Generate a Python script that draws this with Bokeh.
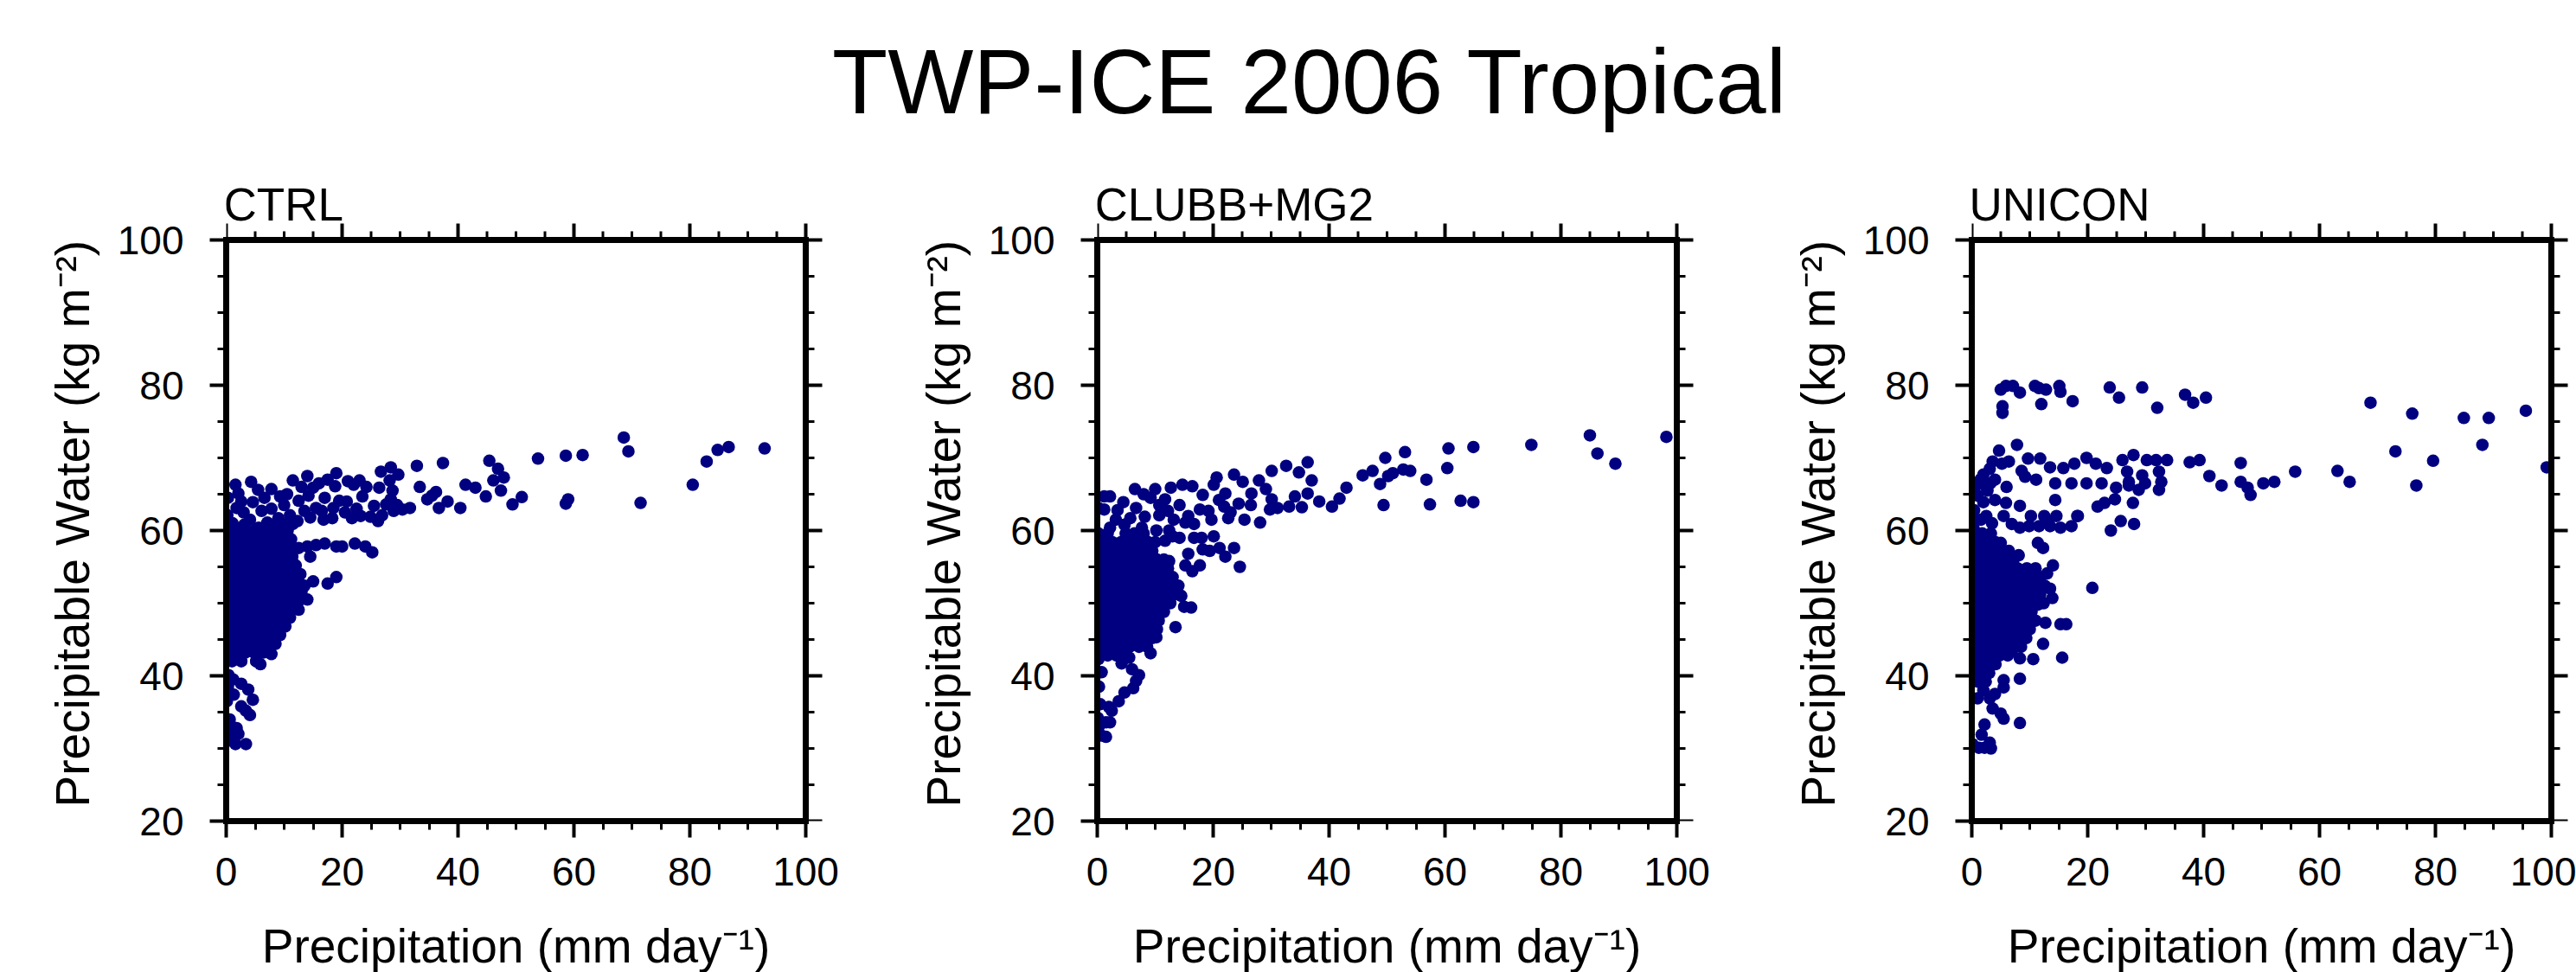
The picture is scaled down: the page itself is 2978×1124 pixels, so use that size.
import math
from bokeh.plotting import figure
from bokeh.layouts import column, row
from bokeh.models import Range1d, LinearAxis, FixedTicker
from bokeh.embed import file_html
from bokeh.resources import INLINE
from bokeh.core.properties import value

FONT = "Liberation Sans"
NAVY = "#000080"

title_text = "TWP-ICE 2006 Tropical"
panel_names = ["CTRL", "CLUBB+MG2", "UNICON"]
x_label = "Precipitation (mm day\u207b\u00b9)"
y_label = "Precipitable Water (kg m\u207b\u00b2)"
x_major = [0, 20, 40, 60, 80, 100]
x_minor = [5, 10, 15, 25, 30, 35, 45, 50, 55, 65, 70, 75, 85, 90, 95]
y_major = [20, 40, 60, 80, 100]
y_minor = [25, 30, 35, 45, 50, 55, 65, 70, 75, 85, 90, 95]

# ---------------- CTRL ----------------
ctrl_precip = [
    68.6, 69.4, 71.5, 80.5, 82.9, 84.8, 86.7, 92.9, 53.8, 58.6, 61.5, 58.6, 59.0, 51.0, 49.4,
    45.4, 46.9, 47.9, 46.1, 47.4, 44.8, 43.0, 41.3, 40.4,
    37.4, 32.9, 33.4, 36.2, 34.7, 38.2, 36.7, 31.7, 30.4, 35.5,
    26.7, 28.4, 29.7, 28.2, 26.4, 28.7, 28.4, 28.9, 26.9, 24.9, 26.2, 27.6, 25.5, 29.5,
    22.0, 23.0, 24.2, 23.5, 21.7, 19.0, 18.8, 19.5, 18.5, 18.3, 16.0, 14.0, 11.5, 15.0, 12.5,
    15.5, 16.5, 13.5, 12.3, 20.5, 22.5, 17.0, 14.2, 13.0, 17.5, 20.8, 21.0, 16.8, 14.5, 23.2,
    9.3, 9.0, 11.0, 6.6, 4.6, 6.1, 7.1, 4.1, 4.3, 1.6, 2.1, 1.8, 0.2, 1.1, 3.1,
    5.6, 8.1, 10.0, 7.8, 3.0, 2.6, 5.5, 7.8, 9.8, 11.5, 0.5, 0.3, 10.5,
    12.5, 14.0, 15.5, 17.0, 19.0, 20.0, 22.2, 24.0, 25.2, 14.5, 15.0, 17.5, 19.0, 13.5, 14.0, 12.5,
    2.6, 3.8, 4.6, 1.3, 2.6, 4.1, 3.4, 0.6, 1.8, 0.6, 1.6, 3.4, 0.1, 0.1, 0.4,
    0.1, 2.1, 1.0, 0.3, 1.2, 5.9, 7.8, 5.2,
]
ctrl_pw = [
    72.8, 70.9, 63.8, 66.3, 69.5, 71.1, 71.5, 71.3, 69.9, 70.3, 70.4, 63.7, 64.3, 64.6, 63.6,
    69.6, 68.5, 67.3, 66.9, 65.5, 64.7, 65.9, 66.3, 63.1,
    69.3, 68.9, 66.0, 65.3, 64.3, 64.0, 63.1, 63.1, 62.9, 64.8,
    68.1, 68.7, 67.7, 66.9, 65.9, 65.5, 64.3, 62.7, 62.1, 61.9, 61.3, 63.6, 63.4, 63.5,
    66.3, 66.9, 66.0, 64.7, 61.7, 67.9, 66.1, 64.1, 63.1, 61.7, 66.5, 67.5, 66.9, 65.9, 64.1,
    63.1, 62.7, 62.7, 61.3, 62.5, 63.0, 64.5, 64.8, 66.0, 67.0, 64.0, 66.8, 61.5, 61.8, 62.0,
    64.7, 61.7, 62.1, 64.5, 63.9, 62.7, 61.1, 61.5, 66.7, 66.3, 65.1, 63.1, 62.1, 61.0, 60.8,
    60.4, 60.4, 63.5, 63.0, 62.5, 64.0, 65.6, 65.7, 60.8, 60.9, 60.5, 64.5, 65.0,
    57.6, 57.8, 58.0, 58.2, 57.8, 57.8, 58.2, 57.8, 57.0, 56.4, 53.0, 52.7, 53.6, 52.4, 50.5, 49.1,
    38.9, 38.1, 36.7, 37.4, 35.8, 34.6, 35.2, 34.0, 32.8, 31.4, 30.6, 30.6, 31.0, 36.5, 40.1,
    42.5, 32.0, 33.0, 38.5, 39.5, 41.6, 43.0, 42.0,
]
# dense core of CTRL, row by row
ctrl_core_pw = [60.0, 58.8, 57.6, 56.4, 55.2, 54.0, 52.8, 51.6, 50.4, 49.2, 48.0, 46.8, 45.6, 44.4, 43.2, 42.0]
ctrl_core_precip = [
    [0.2, 1.8, 3.3, 4.9, 6.4, 7.9, 9.5, 10.6],
    [1.0, 2.5, 4.1, 5.7, 7.2, 8.8, 10.3, 11.2],
    [0.2, 1.7, 3.3, 4.8, 6.4, 8.0, 9.5, 11.0],
    [1.0, 2.6, 4.1, 5.6, 7.2, 8.7, 10.3, 11.4],
    [0.3, 1.8, 3.3, 4.9, 6.4, 7.9, 9.5, 11.0, 12.0],
    [1.0, 2.5, 4.1, 5.7, 7.2, 8.8, 10.3, 11.8, 12.8],
    [0.2, 1.7, 3.3, 4.8, 6.4, 8.0, 9.5, 11.0, 12.6],
    [1.1, 2.6, 4.1, 5.6, 7.2, 8.7, 10.3, 11.8, 13.0],
    [0.2, 1.8, 3.3, 4.9, 6.4, 7.9, 9.5, 11.0, 12.6],
    [1.0, 2.5, 4.1, 5.7, 7.2, 8.8, 10.3, 11.7],
    [0.3, 1.8, 3.3, 4.8, 6.4, 8.0, 9.5, 11.0],
    [1.0, 2.6, 4.1, 5.6, 7.2, 8.7, 10.2],
    [0.2, 1.7, 3.3, 4.9, 6.4, 7.9, 9.3],
    [1.0, 2.5, 4.1, 5.7, 7.2, 8.5],
    [0.2, 1.8, 3.3, 4.8, 6.4, 7.5],
    [1.0, 2.6, 5.2],
]

# ---------------- CLUBB+MG2 ----------------
clubb_precip = [
    74.9, 85.0, 86.3, 89.4, 98.2, 64.9, 64.9, 62.7, 60.6, 60.4, 57.4, 56.8, 54.0, 52.8, 53.1,
    49.7, 51.0, 50.2, 47.5, 45.8, 48.8, 49.4, 43.0, 41.8, 40.5,
    36.3, 32.6, 30.1, 34.8, 37.0, 36.3, 34.1, 38.3, 35.3, 33.1, 31.1, 29.8, 30.1,
    27.9, 29.1, 26.6, 25.1, 23.6, 20.6, 20.1, 22.1, 21.9, 24.4, 22.6, 25.4, 28.1, 21.0, 26.5, 23.0,
    23.6, 22.1, 24.6, 20.1, 21.1, 19.4, 18.2, 17.7, 16.4, 15.2, 15.7, 16.7, 14.2, 11.7, 10.0, 12.4, 13.0, 18.0,
    14.7, 16.4, 18.2, 12.7, 10.0, 6.5, 4.5, 2.2, 1.2, 9.2, 11.7, 14.2, 17.7, 19.2, 19.7,
    13.2, 15.2, 16.7, 10.7, 8.2, 5.7, 3.2, 2.2, 10.7, 1.2, 0.2, 6.7, 12.2, 15.7, 4.7,
    7.7, 10.2, 12.4, 8.0, 3.5,
    16.2, 15.0, 13.5, 10.2, 9.2, 2.2, 12.4, 14.5,
    4.2, 5.5, 6.0, 7.2, 6.7, 6.2, 4.7, 3.7, 2.0, 2.5, 1.5, 2.2, 1.5, 0.25, 0.5, 0.3, 0.75, 0.2, 0.7, 0.1,
]
clubb_pw = [
    71.8, 73.1, 70.6, 69.2, 72.9, 71.5, 63.9, 64.1, 71.3, 68.6, 63.6, 67.0, 68.2, 68.4, 70.8,
    70.0, 67.9, 67.5, 68.2, 67.6, 66.4, 63.5, 65.9, 64.4, 63.3,
    69.4, 68.9, 68.2, 68.0, 66.9, 65.1, 64.7, 64.0, 63.2, 63.3, 63.1, 62.9, 64.3,
    66.9, 65.7, 65.1, 66.7, 67.7, 67.3, 66.3, 65.1, 63.3, 63.7, 61.7, 61.5, 61.1, 64.2, 63.5, 62.5,
    57.6, 56.4, 55.0, 59.2, 57.6, 57.2, 57.4, 55.2, 54.4, 55.2, 56.8, 59.0, 59.0, 58.6, 58.4, 55.8, 59.2, 59.0,
    66.3, 66.1, 64.9, 65.9, 65.7, 65.7, 63.9, 64.7, 62.9, 64.5, 64.3, 63.5, 62.9, 62.7, 61.5,
    61.5, 61.1, 60.9, 62.1, 61.9, 61.7, 61.5, 60.4, 63.5, 64.7, 63.1, 63.1, 62.7, 62.0, 60.8,
    60.4, 60.0, 60.0, 65.0, 62.8,
    49.4, 49.5, 46.7, 45.3, 43.1, 43.7, 53.6, 51.0,
    41.7, 42.5, 40.9, 40.1, 39.3, 38.3, 37.7, 36.5, 35.7, 35.2, 33.6, 33.6, 31.6, 33.0, 36.1, 38.5, 40.5, 42.3, 31.8, 34.2,
]
clubb_core_pw = [59.6, 58.4, 57.2, 56.0, 54.8, 53.6, 52.4, 51.2, 50.0, 48.8, 47.6, 46.4, 45.2, 44.0, 42.8]
clubb_core_precip = [
    [0.2, 1.8, 4.9, 6.4, 8.0],
    [1.0, 2.6, 4.1, 5.7, 7.2, 8.8],
    [0.2, 1.8, 3.3, 4.8, 6.4, 8.0, 9.5],
    [1.0, 2.5, 4.1, 5.7, 7.2, 8.7, 10.3, 11.5],
    [0.3, 1.8, 3.3, 4.9, 6.4, 7.9, 9.5, 11.0, 12.2],
    [1.0, 2.6, 4.1, 5.6, 7.2, 8.8, 10.3, 11.8, 13.0],
    [0.2, 1.7, 3.3, 4.8, 6.4, 8.0, 9.5, 11.0, 12.6, 14.0],
    [1.0, 2.5, 4.1, 5.7, 7.2, 8.7, 10.3, 11.8, 13.3],
    [0.2, 1.8, 3.3, 4.9, 6.4, 7.9, 9.5, 11.0, 12.6],
    [1.0, 2.6, 4.1, 5.6, 7.2, 8.8, 10.3, 11.5],
    [0.3, 1.8, 3.3, 4.8, 6.4, 8.0, 9.5, 10.6],
    [1.0, 2.5, 4.1, 5.7, 7.2, 8.7, 10.3],
    [0.2, 1.7, 3.3, 4.9, 6.4, 7.9, 9.5],
    [1.0, 2.6, 4.1, 5.6, 7.2, 8.6],
    [0.2, 1.8, 3.3, 4.9],
]

# ---------------- UNICON ----------------
unicon_precip = [
    5.0, 7.1, 8.3, 10.9, 12.0, 12.8, 15.1, 15.3, 17.4, 23.8, 25.4, 29.4, 32.0, 36.8, 38.2, 40.4, 5.3, 5.3, 5.9, 11.6,
    68.8, 76.0, 73.1, 76.7, 79.6, 84.9, 88.1, 89.2, 95.6, 99.2, 63.1, 65.2, 55.8, 52.2, 50.3, 48.1, 47.6, 46.4, 46.4, 43.1, 41.0,
    7.8, 4.7, 3.6, 3.1, 2.0, 5.2, 6.4, 9.7, 11.8, 13.5, 15.8, 17.7, 19.8, 21.4, 23.3, 26.0, 27.9, 30.2, 31.8, 33.7, 37.6, 39.3,
    8.6, 9.2, 4.0, 11.1, 14.4, 17.2, 19.8, 22.4, 24.9, 27.1, 26.8, 29.4, 32.3, 32.7, 32.3, 29.9, 6.0, 2.5,
    14.4, 12.5, 8.3, 4.0, 22.9, 21.7, 24.7, 27.1, 27.8, 28.8, 24.0, 25.7, 28.0, 18.3, 17.2, 14.6, 13.2, 11.6, 9.9, 8.3,
    6.9, 5.5, 13.5, 5.9, 10.2, 15.3, 18.2,
    11.4, 12.3, 8.1, 5.0,
    14.0, 13.0, 9.7, 11.6, 13.5, 13.9, 11.4, 9.2, 7.8, 12.7, 15.3, 16.3, 12.3, 15.6, 10.6, 8.3, 6.9, 20.8,
    5.5, 8.3, 5.5, 3.1, 3.6, 5.0, 5.5, 8.3, 2.2, 1.7, 3.1, 2.2, 1.2, 0.1, 3.3, 1.0, 1.2, 0.3, 2.0, 4.0,
    0.3, 1.6, 0.4, 2.0, 1.0, 2.7, 3.2, 0.5, 1.5, 2.5, 3.5, 0.2,
]
unicon_pw = [
    79.4, 79.9, 79.0, 79.9, 77.4, 79.4, 79.9, 79.1, 77.8, 79.7, 78.3, 79.7, 76.9, 78.7, 77.6, 78.3, 77.1, 76.2, 79.9, 79.6,
    77.6, 76.1, 70.9, 66.2, 69.6, 75.5, 71.8, 75.5, 76.5, 68.7, 68.2, 66.7, 68.1, 66.7, 66.5, 64.9, 65.9, 66.7, 69.3, 66.2, 67.5,
    71.8, 71.0, 69.5, 68.5, 67.7, 69.2, 69.5, 69.9, 69.9, 68.7, 68.6, 69.2, 70.0, 69.2, 68.6, 69.7, 70.4, 69.7, 69.7, 69.7, 69.4, 69.7,
    68.2, 67.4, 67.0, 67.0, 66.5, 66.5, 66.5, 66.5, 65.9, 66.7, 68.1, 67.6, 68.1, 66.7, 65.6, 66.5, 66.0, 66.0,
    64.2, 62.0, 63.4, 64.2, 63.8, 63.3, 64.3, 66.2, 63.8, 65.6, 60.0, 61.3, 60.9, 62.0, 60.6, 62.0, 61.3, 60.6, 60.6, 60.4,
    60.9, 62.0, 60.6, 63.8, 62.0, 60.4, 62.0,
    58.3, 57.6, 56.6, 58.3,
    55.2, 54.1, 54.1, 53.4, 52.0, 50.7, 49.8, 49.8, 51.3, 47.3, 47.1, 47.1, 44.4, 42.5, 42.3, 42.4, 43.4, 52.1,
    39.4, 39.6, 38.4, 36.9, 35.5, 34.8, 34.1, 33.5, 33.3, 31.9, 30.8, 30.1, 30.1, 30.6, 30.0, 36.9, 39.8, 41.2, 38.0, 37.5,
    60.4, 61.5, 62.8, 63.9, 64.8, 65.5, 66.5, 65.9, 67.0, 62.0, 61.0, 61.7,
]
unicon_core_pw = [59.6, 58.4, 57.2, 56.0, 54.8, 53.6, 52.4, 51.2, 50.0, 48.8, 47.6, 46.4, 45.2, 44.0, 42.8, 41.6, 40.4, 39.2]
unicon_core_precip = [
    [0.2, 1.8, 3.3],
    [1.0, 2.6, 4.1],
    [0.2, 1.8, 3.3, 4.8, 6.4],
    [1.0, 2.5, 4.1, 5.7, 7.2],
    [0.3, 1.8, 3.3, 4.9, 6.4, 7.9, 9.5, 11.0],
    [1.0, 2.6, 4.1, 5.6, 7.2, 8.8, 10.3, 11.8],
    [0.2, 1.7, 3.3, 4.8, 6.4, 8.0, 9.5, 11.0, 12.6],
    [1.0, 2.5, 4.1, 5.7, 7.2, 8.7, 10.3, 11.8],
    [0.2, 1.8, 3.3, 4.9, 6.4, 7.9, 9.5, 11.0, 12.4],
    [1.0, 2.6, 4.1, 5.6, 7.2, 8.8, 10.3],
    [0.3, 1.8, 3.3, 4.8, 6.4, 8.0, 9.5, 11.0],
    [1.0, 2.5, 4.1, 5.7, 7.2, 8.7, 10.0],
    [0.2, 1.7, 3.3, 4.9, 6.4, 7.9, 9.4],
    [1.0, 2.6, 4.1, 5.6, 7.2, 8.5],
    [0.2, 1.8, 3.3, 4.8, 6.2],
    [1.0, 2.5, 4.1],
    [0.2, 1.7, 3.0],
    [1.0, 2.4],
]


def gather(px, py, core_py, core_px):
    n = min(len(px), len(py))
    xs = list(px[:n])
    ys = list(py[:n])
    for yv, rowx in zip(core_py, core_px):
        for xv in rowx:
            xs.append(xv)
            ys.append(yv)
    return xs, ys


# ---------------- layout (pixels) ----------------
W_TOTAL, H_TOTAL = 2978, 1124
TITLE_H = 200            # title strip height
XLAB_H = 70              # x-label strip height
PANEL_H = H_TOTAL - TITLE_H - XLAB_H
BOX_TOP, BOX_BOTTOM = 277, 949
BOX_W = 670
BOX_LEFTS = [261, 1268, 2279]
FIG_STARTS = [0, 1007, 2018]
FIG_ENDS = [1007, 2018, 2978]
YLAB_W = 130             # width of the strip holding the rotated y label
YLAB_MID_X = 83          # middle of y label text, from strip left
YLAB_ANCHOR_Y = 662      # page y of the rotated label's anchor (renders centred on the box)
NAME_MID = 236           # vertical middle of the panel names (px from top)
TITLE_MID = 94           # vertical middle of the main title (px from top)
XLAB_MID = 1093          # vertical middle of x labels (px from top)

xmin, xmax = x_major[0], x_major[-1]
ymin, ymax = y_major[0], y_major[-1]
py_per_unit = (BOX_BOTTOM - BOX_TOP) / (ymax - ymin)
px_per_unit = BOX_W / (xmax - xmin)
y_top = ymax + (BOX_TOP - TITLE_H) / py_per_unit


def bare_fig(w, h, xr, yr):
    f = figure(width=w, height=h, title=None, x_range=xr, y_range=yr,
               output_backend="svg", toolbar_location=None,
               x_axis_location=None, y_axis_location=None, min_border=0)
    f.outline_line_color = None
    f.grid.visible = False
    f.background_fill_color = "white"
    f.border_fill_color = "white"
    return f


def style_axis(ax):
    ax.axis_line_width = 7
    ax.axis_line_color = "black"
    ax.axis_line_cap = "square"
    ax.major_tick_line_width = 4
    ax.minor_tick_line_width = 3
    ax.major_tick_line_color = "black"
    ax.minor_tick_line_color = "black"
    ax.major_tick_in = 0
    ax.major_tick_out = 19
    ax.minor_tick_in = 0
    ax.minor_tick_out = 10
    ax.major_label_text_font = FONT
    ax.major_label_text_font_size = "46px"
    ax.major_label_text_color = "black"


def make_panel(name, xs, ys, i):
    fig_w = FIG_ENDS[i] - FIG_STARTS[i] - YLAB_W
    left = BOX_LEFTS[i] - FIG_STARTS[i] - YLAB_W
    frame_w = fig_w - left
    x_right = xmin + frame_w / px_per_unit
    p = figure(width=fig_w, height=PANEL_H, title=None,
               x_range=Range1d(xmin, x_right), y_range=Range1d(ymin, y_top),
               output_backend="svg", toolbar_location=None,
               x_axis_location=None, y_axis_location=None,
               min_border_left=left, min_border_right=0,
               min_border_top=0, min_border_bottom=PANEL_H - (BOX_BOTTOM - TITLE_H))
    p.outline_line_color = None
    p.background_fill_color = "white"
    p.border_fill_color = "white"
    p.grid.visible = False

    p.scatter(xs, ys, size=14.5, fill_color=NAVY, line_color=None)

    nx, nxm, ny, nym = len(x_major), len(x_minor), len(y_major), len(y_minor)
    p.segment(x0=[xmin, xmax], y0=[ymax, ymin], x1=[xmax, xmax], y1=[ymax, ymax],
              line_width=7, line_color="black", line_cap="square")
    p.segment(x0=x_major, y0=[ymax] * nx, x1=x_major, y1=[ymax + 19 / py_per_unit] * nx,
              line_width=4, line_color="black")
    p.segment(x0=x_minor, y0=[ymax] * nxm, x1=x_minor, y1=[ymax + 10 / py_per_unit] * nxm,
              line_width=3, line_color="black")
    p.segment(x0=[xmax] * ny, y0=y_major, x1=[xmax + 19 / px_per_unit] * ny, y1=y_major,
              line_width=4, line_color="black")
    p.segment(x0=[xmax] * nym, y0=y_minor, x1=[xmax + 10 / px_per_unit] * nym, y1=y_minor,
              line_width=3, line_color="black")

    bx = LinearAxis(ticker=FixedTicker(ticks=x_major, minor_ticks=x_minor), bounds=(xmin, xmax))
    style_axis(bx)
    bx.major_label_standoff = 23
    ly = LinearAxis(ticker=FixedTicker(ticks=y_major, minor_ticks=y_minor), bounds=(ymin, ymax))
    style_axis(ly)
    ly.major_label_standoff = 30
    p.add_layout(bx, "below")
    p.add_layout(ly, "left")

    p.text(x=[xmin], y=[ymax + (BOX_TOP - NAME_MID) / py_per_unit], text=[name], x_offset=-3,
           text_font=value(FONT), text_font_size="53px", text_color="black",
           text_align="left", text_baseline="middle")
    return p


def make_ylabel():
    f = bare_fig(YLAB_W, PANEL_H, Range1d(0, YLAB_W), Range1d(0, PANEL_H))
    anchor_from_top = YLAB_ANCHOR_Y - TITLE_H
    f.text(x=[YLAB_MID_X], y=[PANEL_H - anchor_from_top], text=[y_label], angle=math.pi / 2,
           text_font=value(FONT), text_font_size="55px", text_color="black",
           text_align="center", text_baseline="middle")
    return f


cx, cy = gather(ctrl_precip, ctrl_pw, ctrl_core_pw, ctrl_core_precip)
kx, ky = gather(clubb_precip, clubb_pw, clubb_core_pw, clubb_core_precip)
ux, uy = gather(unicon_precip, unicon_pw, unicon_core_pw, unicon_core_precip)

panels = [make_panel(panel_names[0], cx, cy, 0),
          make_panel(panel_names[1], kx, ky, 1),
          make_panel(panel_names[2], ux, uy, 2)]

children = []
for pnl in panels:
    children.append(make_ylabel())
    children.append(pnl)
panel_row = row(*children, spacing=0)

# title strip: y measured in pixels from the top
tp = bare_fig(W_TOTAL, TITLE_H, Range1d(0, W_TOTAL), Range1d(TITLE_H, 0))
tp.text(x=[1514], y=[TITLE_MID], text=[title_text], text_font=value(FONT),
        text_font_size="105px", text_color="black",
        text_align="center", text_baseline="middle")

# x-label strip: y measured in pixels from the top of the strip
xl = bare_fig(W_TOTAL, XLAB_H, Range1d(0, W_TOTAL), Range1d(XLAB_H, 0))
xl_centers = [b + BOX_W / 2 for b in BOX_LEFTS]
xl.text(x=xl_centers, y=[XLAB_MID - (H_TOTAL - XLAB_H)] * 3, text=[x_label] * 3,
        text_font=value(FONT), text_font_size="55px", text_color="black",
        text_align="center", text_baseline="middle")

layout = column(tp, panel_row, xl, spacing=0)

with open("out.html", "w") as f:
    f.write(file_html(layout, INLINE))
